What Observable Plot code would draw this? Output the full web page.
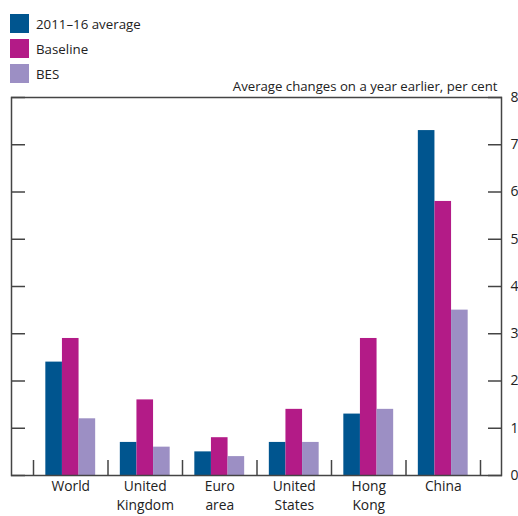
<!DOCTYPE html>
<html>
<head>
<meta charset="utf-8">
<script src="https://cdn.jsdelivr.net/npm/d3@7"></script>
<script src="https://cdn.jsdelivr.net/npm/@observablehq/plot@0.6"></script>
<style>
  html, body { margin: 0; padding: 0; background: #fff; }
  #wrap { position: relative; width: 518px; height: 516px; font-family: "Open Sans", sans-serif; color: #222; }
  #legend { position: absolute; top: 14px; left: 10px; font-size: 13.3px; }
  .row { display: flex; align-items: center; height: 19px; margin-bottom: 6px; }
  .sw { width: 19px; height: 19px; margin-right: 7px; }
  svg { display: block; overflow: visible; }
</style>
</head>
<body>
<div id="wrap"><div id="legend"></div></div>
<script>
const categories = ["World", "United\nKingdom", "Euro\narea", "United\nStates", "Hong\nKong", "China"];
const series = ["2011–16 average", "Baseline", "BES"];
const avg2011_16 = [2.4, 0.7, 0.5, 0.7, 1.3, 7.3];
const baseline = [2.9, 1.6, 0.8, 1.4, 2.9, 5.8];
const bes = [1.2, 0.6, 0.4, 0.7, 1.4, 3.5];
const colors = ["#00558f", "#b31b87", "#9c8fc4"];
const yTicks = [0, 1, 2, 3, 4, 5, 6, 7, 8];
const yLabel = "Average changes on a year earlier, per cent";

const values = [avg2011_16, baseline, bes];
const barW = 0.223;
const rows = [];
categories.forEach((c, i) => {
  series.forEach((s, k) => {
    rows.push({i, s, k, v: values[k][i], x1: i + (k - 1.5) * barW, x2: i + (k - 0.5) * barW});
  });
});
const boundaries = d3.range(categories.length + 1).map(i => i - 0.5);

const chart = Plot.plot({
  width: 518,
  height: 516,
  marginTop: 97,
  marginBottom: 41,
  marginLeft: 11,
  marginRight: 17,
  style: {fontFamily: "Open Sans, sans-serif", fontSize: "13.5px", color: "#222", background: "#fff", overflow: "visible"},
  x: {type: "linear", domain: [-0.5 - 22 / 74.5, 5.5 + 21 / 74.5], axis: null},
  y: {domain: [0, 8], axis: null},
  color: {domain: series, range: colors},
  marks: [
    Plot.rectY(rows, {x1: "x1", x2: "x2", y: "v", fill: "s"}),
    Plot.axisY({anchor: "right", ticks: yTicks, tickSize: -14, tickPadding: 23, stroke: "#444", strokeWidth: 1.5, label: null, fontSize: 14}),
    Plot.axisY({anchor: "left", ticks: yTicks, tickSize: -14, tickFormat: () => "", stroke: "#444", strokeWidth: 1.5, label: null}),
    Plot.axisX({anchor: "bottom", ticks: boundaries, tickSize: -15, tickFormat: () => "", stroke: "#444", strokeWidth: 1.5, label: null}),
    Plot.axisX({anchor: "bottom", ticks: d3.range(categories.length), tickSize: 0, tickPadding: 3, tickFormat: i => categories[i], lineHeight: 1.32, label: null, fontSize: 13.8}),
    Plot.frame({stroke: "#444", strokeWidth: 1.5}),
    Plot.text([yLabel], {frameAnchor: "top-right", textAnchor: "end", lineAnchor: "middle", dx: -4, dy: -11, fontSize: 13.2, fill: "#222"})
  ]
});
document.getElementById("wrap").prepend(chart);

const legend = document.getElementById("legend");
series.forEach((s, k) => {
  const row = document.createElement("div");
  row.className = "row";
  const sw = document.createElement("div");
  sw.className = "sw";
  sw.style.background = colors[k];
  const lab = document.createElement("span");
  lab.textContent = s;
  row.append(sw, lab);
  legend.append(row);
});
</script>
</body>
</html>
